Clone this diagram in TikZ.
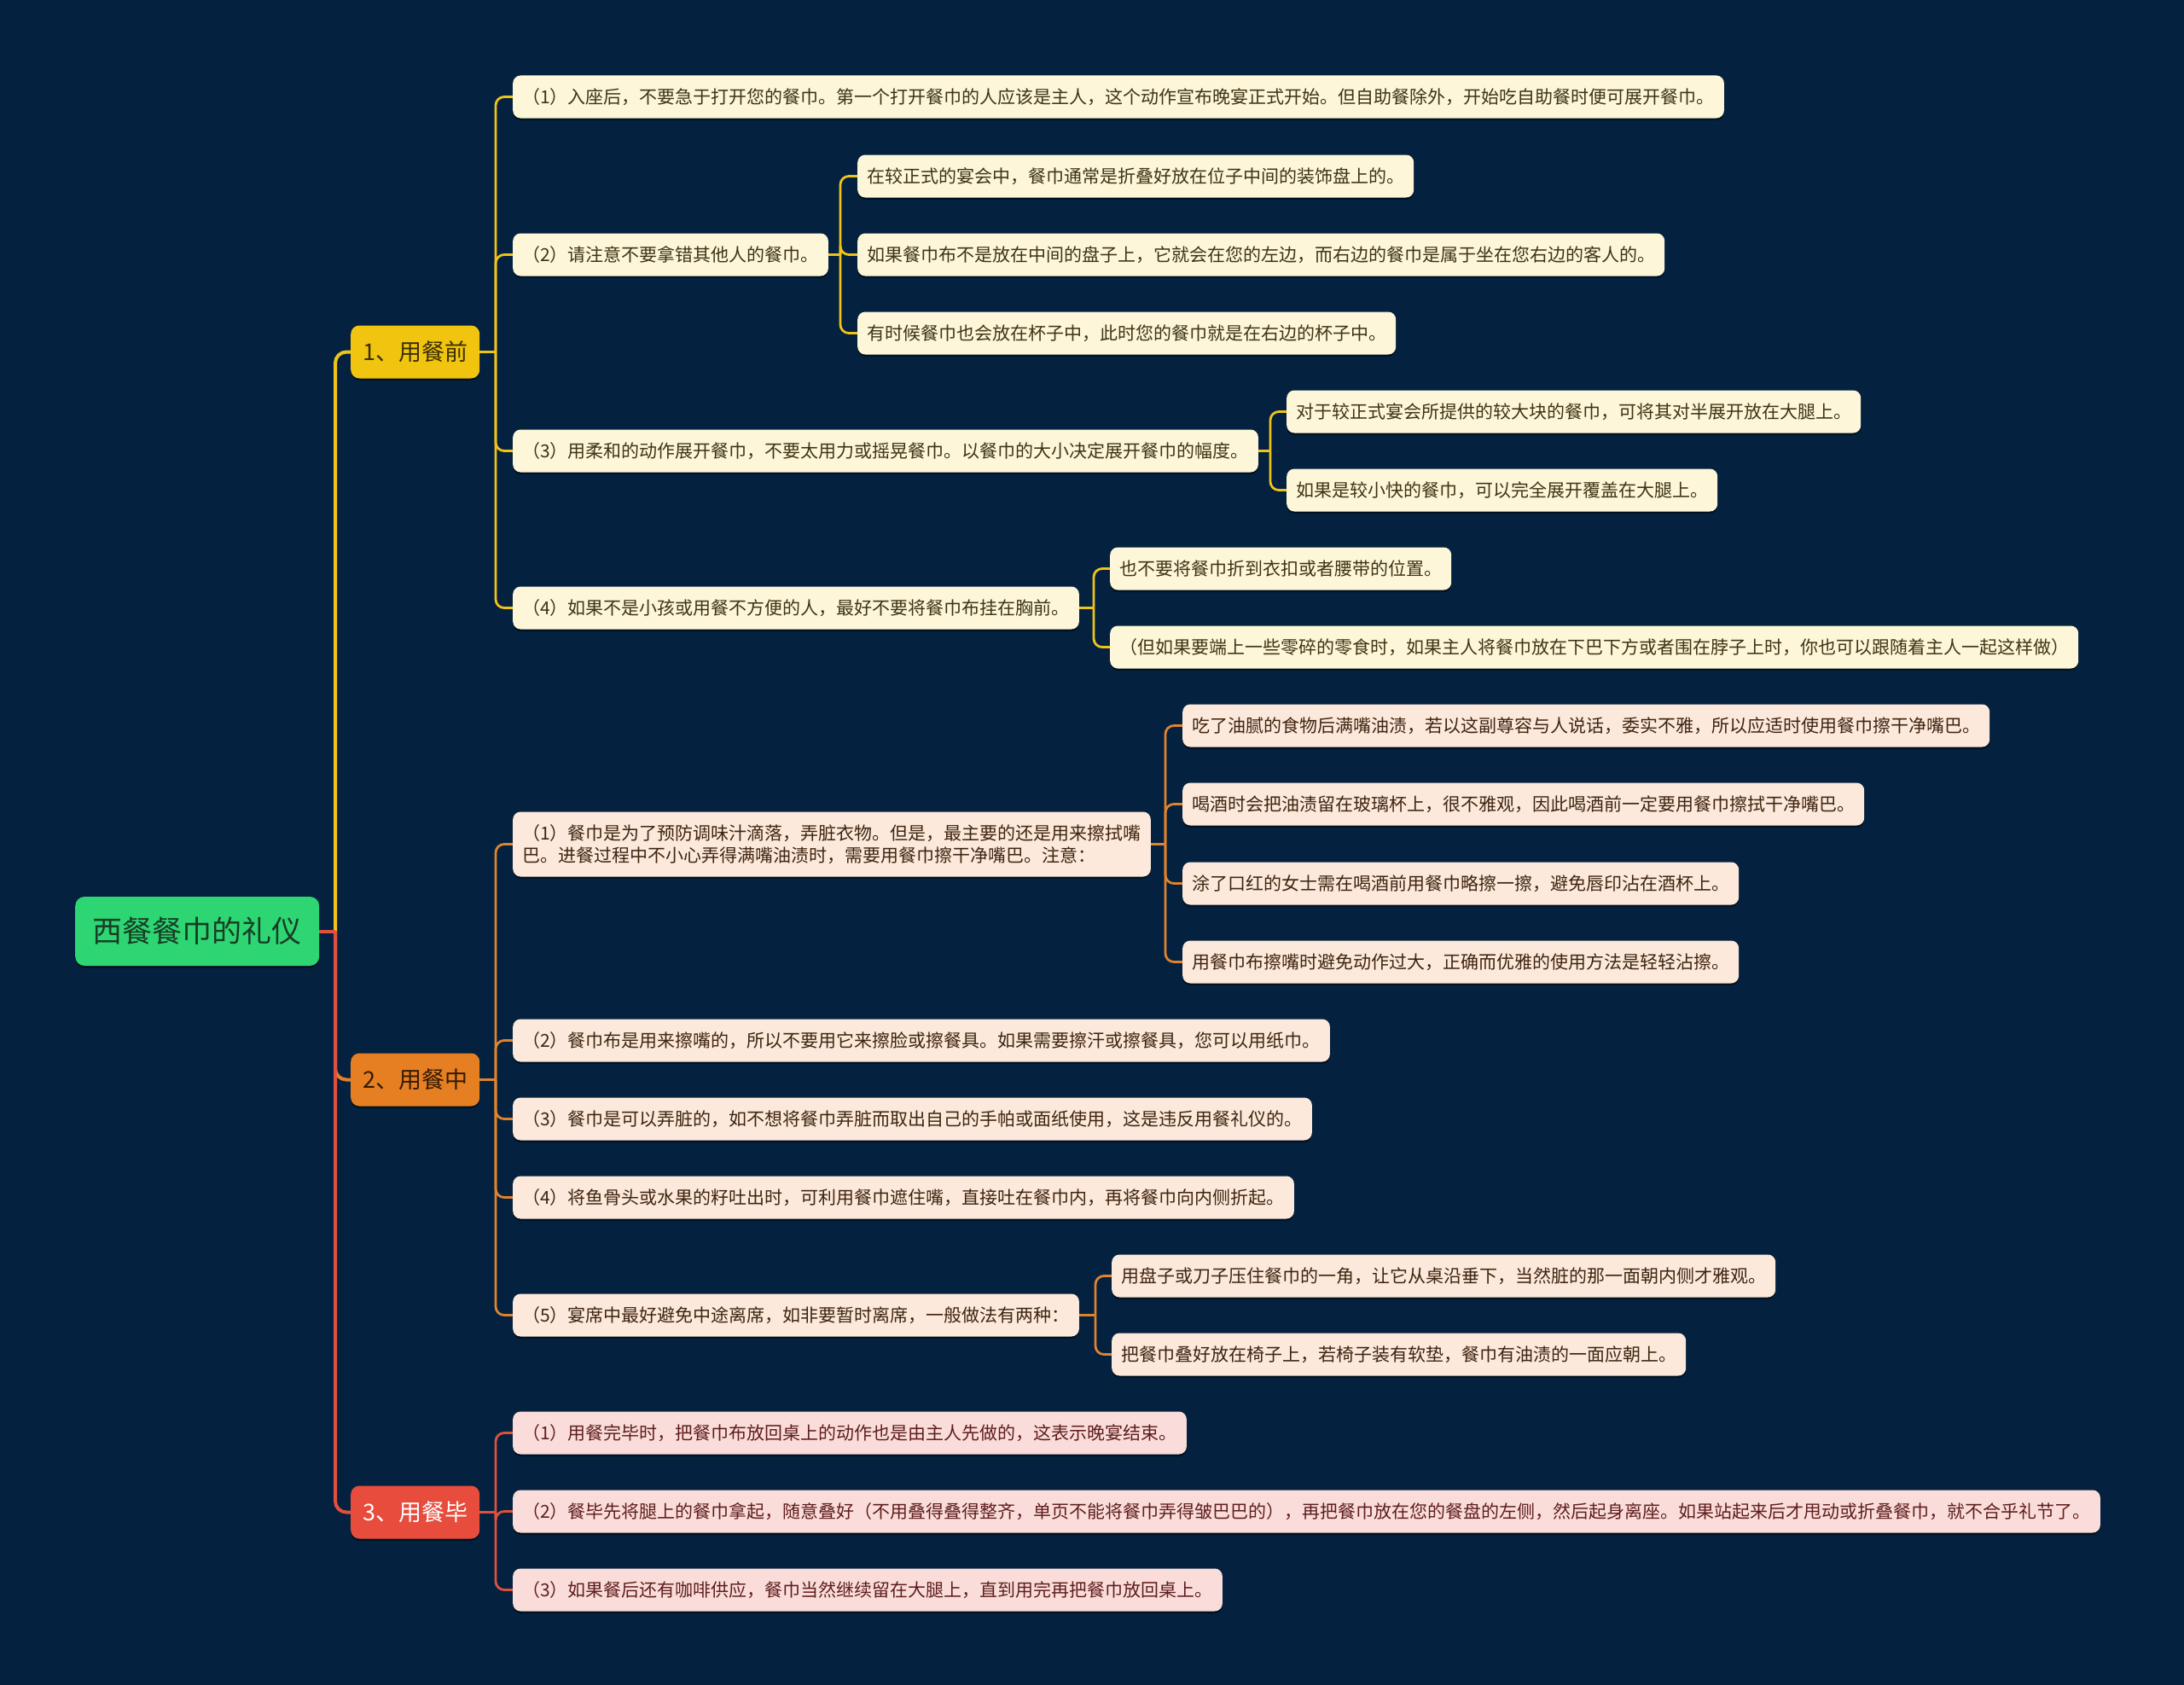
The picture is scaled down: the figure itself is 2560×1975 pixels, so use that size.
\documentclass[tikz,border=0pt]{standalone}
\usepackage{fontspec}
\newfontfamily\cjk{Noto Sans CJK SC}
\usetikzlibrary{shadows}
\definecolor{bg}{HTML}{04223F}
\definecolor{cRoot}{HTML}{2ED573}
\definecolor{tRoot}{HTML}{173D24}
\definecolor{cY}{HTML}{F1C40F}
\definecolor{tY}{HTML}{3A2F00}
\definecolor{cO}{HTML}{E67E22}
\definecolor{tO}{HTML}{331A05}
\definecolor{cR}{HTML}{E74C3C}
\definecolor{leafY}{HTML}{FDF6D9}
\definecolor{tLY}{HTML}{3D3414}
\definecolor{leafO}{HTML}{FCE9DB}
\definecolor{tLO}{HTML}{3F2410}
\definecolor{leafR}{HTML}{FADDDA}
\definecolor{tLR}{HTML}{5E1D1D}
\definecolor{lnY}{HTML}{EFC31A}
\definecolor{lnO}{HTML}{E0822E}
\definecolor{lnR}{HTML}{E0503F}
\tikzset{
  shd/.style={general shadow={fill=black, opacity=0.45, shadow yshift=-2.5pt}},
  leaf/.style={shd, rounded corners=9pt, inner sep=0pt, inner xsep=11pt, minimum height=50pt,
    font=\cjk\fontsize{21}{26}\selectfont, anchor=west, align=left},
  leafy/.style={leaf, fill=leafY, text=tLY},
  leafo/.style={leaf, fill=leafO, text=tLO},
  leafr/.style={leaf, fill=leafR, text=tLR},
  rootbox/.style={shd, rounded corners=11pt, inner sep=0pt, minimum width=286pt, minimum height=81pt,
    font=\cjk\fontsize{35}{40}\selectfont, anchor=west, fill=cRoot, text=tRoot},
  branchbox/.style={shd, rounded corners=10pt, inner sep=0pt, minimum width=151pt, minimum height=62pt,
    font=\cjk\fontsize{27}{32}\selectfont, anchor=west},
  rootline/.style={line width=4pt, rounded corners=13pt},
  subline/.style={line width=2.8pt, rounded corners=10pt},
}
\begin{document}
\begin{tikzpicture}[x=1pt,y=-1pt]
\fill[bg] (0,0) rectangle (2560,1975);
\useasboundingbox (0,0) rectangle (2560,1975);

\begin{scope}[yshift=-1.5pt]
% nodes
\node[rootbox] (root) at (88,1090) {西餐餐巾的礼仪};
\node[branchbox, fill=cY, text=tY] (b1) at (411,411) {1、用餐前};
\node[branchbox, fill=cO, text=tO] (b2) at (411,1264) {2、用餐中};
\node[branchbox, fill=cR, text=white] (b3) at (411,1771) {3、用餐毕};

\node[leafy] (a1) at (601,112) {（1）入座后，不要急于打开您的餐巾。第一个打开餐巾的人应该是主人，这个动作宣布晚宴正式开始。但自助餐除外，开始吃自助餐时便可展开餐巾。};
\node[leafy] (a2) at (601,297) {（2）请注意不要拿错其他人的餐巾。};
\node[leafy] (a21) at (1005,205) {在较正式的宴会中，餐巾通常是折叠好放在位子中间的装饰盘上的。};
\node[leafy] (a22) at (1005,297) {如果餐巾布不是放在中间的盘子上，它就会在您的左边，而右边的餐巾是属于坐在您右边的客人的。};
\node[leafy] (a23) at (1005,389) {有时候餐巾也会放在杯子中，此时您的餐巾就是在右边的杯子中。};
\node[leafy] (a3) at (601,527) {（3）用柔和的动作展开餐巾，不要太用力或摇晃餐巾。以餐巾的大小决定展开餐巾的幅度。};
\node[leafy] (a31) at (1508,481) {对于较正式宴会所提供的较大块的餐巾，可将其对半展开放在大腿上。};
\node[leafy] (a32) at (1508,573) {如果是较小快的餐巾，可以完全展开覆盖在大腿上。};
\node[leafy] (a4) at (601,711) {（4）如果不是小孩或用餐不方便的人，最好不要将餐巾布挂在胸前。};
\node[leafy] (a41) at (1301,665) {也不要将餐巾折到衣扣或者腰带的位置。};
\node[leafy] (a42) at (1301,757) {（但如果要端上一些零碎的零食时，如果主人将餐巾放在下巴下方或者围在脖子上时，你也可以跟随着主人一起这样做）};

\node[leafo, minimum height=76pt] (c1) at (601,988) {（1）餐巾是为了预防调味汁滴落，弄脏衣物。但是，最主要的还是用来擦拭嘴\\巴。进餐过程中不小心弄得满嘴油渍时，需要用餐巾擦干净嘴巴。注意：};
\node[leafo] (c11) at (1386,849) {吃了油腻的食物后满嘴油渍，若以这副尊容与人说话，委实不雅，所以应适时使用餐巾擦干净嘴巴。};
\node[leafo] (c12) at (1386,941) {喝酒时会把油渍留在玻璃杯上，很不雅观，因此喝酒前一定要用餐巾擦拭干净嘴巴。};
\node[leafo] (c13) at (1386,1034) {涂了口红的女士需在喝酒前用餐巾略擦一擦，避免唇印沾在酒杯上。};
\node[leafo] (c14) at (1386,1126) {用餐巾布擦嘴时避免动作过大，正确而优雅的使用方法是轻轻沾擦。};
\node[leafo] (c2) at (601,1218) {（2）餐巾布是用来擦嘴的，所以不要用它来擦脸或擦餐具。如果需要擦汗或擦餐具，您可以用纸巾。};
\node[leafo] (c3) at (601,1310) {（3）餐巾是可以弄脏的，如不想将餐巾弄脏而取出自己的手帕或面纸使用，这是违反用餐礼仪的。};
\node[leafo] (c4) at (601,1402) {（4）将鱼骨头或水果的籽吐出时，可利用餐巾遮住嘴，直接吐在餐巾内，再将餐巾向内侧折起。};
\node[leafo] (c5) at (601,1540) {（5）宴席中最好避免中途离席，如非要暂时离席，一般做法有两种：};
\node[leafo] (c51) at (1303,1494) {用盘子或刀子压住餐巾的一角，让它从桌沿垂下，当然脏的那一面朝内侧才雅观。};
\node[leafo] (c52) at (1303,1586) {把餐巾叠好放在椅子上，若椅子装有软垫，餐巾有油渍的一面应朝上。};

\node[leafr] (d1) at (601,1678) {（1）用餐完毕时，把餐巾布放回桌上的动作也是由主人先做的，这表示晚宴结束。};
\node[leafr] (d2) at (601,1770) {（2）餐毕先将腿上的餐巾拿起，随意叠好（不用叠得叠得整齐，单页不能将餐巾弄得皱巴巴的），再把餐巾放在您的餐盘的左侧，然后起身离座。如果站起来后才甩动或折叠餐巾，就不合乎礼节了。};
\node[leafr] (d3) at (601,1862) {（3）如果餐后还有咖啡供应，餐巾当然继续留在大腿上，直到用完再把餐巾放回桌上。};

% trunk coordinates
\coordinate (rt) at (393,1090);
\coordinate (b1t) at (581,411);
\coordinate (b2t) at (581,1264);
\coordinate (b3t) at (581,1771);
\coordinate (a2t) at (985,297);
\coordinate (a3t) at (1489,527);
\coordinate (a4t) at (1282,711);
\coordinate (c1t) at (1366,988);
\coordinate (c5t) at (1284,1540);

% root connectors
\draw[rootline, lnY] (rt) |- (b1.west);
\draw[rootline, lnO] (rt) |- (b2.west);
\draw[rootline, lnR] (rt) |- (b3.west);
\draw[rootline, lnR] (root.east) -- (rt);

% branch 1
\draw[subline, lnY] (b1.east) -- (b1t);
\foreach \n in {a1,a2,a3,a4} \draw[subline, lnY] (b1t) |- (\n.west);
\draw[subline, lnY] (a2.east) -- (a2t);
\foreach \n in {a21,a22,a23} \draw[subline, lnY] (a2t) |- (\n.west);
\draw[subline, lnY] (a3.east) -- (a3t);
\foreach \n in {a31,a32} \draw[subline, lnY] (a3t) |- (\n.west);
\draw[subline, lnY] (a4.east) -- (a4t);
\foreach \n in {a41,a42} \draw[subline, lnY] (a4t) |- (\n.west);

% branch 2
\draw[subline, lnO] (b2.east) -- (b2t);
\foreach \n in {c1,c2,c3,c4,c5} \draw[subline, lnO] (b2t) |- (\n.west);
\draw[subline, lnO] (c1.east) -- (c1t);
\foreach \n in {c11,c12,c13,c14} \draw[subline, lnO] (c1t) |- (\n.west);
\draw[subline, lnO] (c5.east) -- (c5t);
\foreach \n in {c51,c52} \draw[subline, lnO] (c5t) |- (\n.west);

% branch 3
\draw[subline, lnR] (b3.east) -- (b3t);
\foreach \n in {d1,d2,d3} \draw[subline, lnR] (b3t) |- (\n.west);
\end{scope}
\end{tikzpicture}
\end{document}
